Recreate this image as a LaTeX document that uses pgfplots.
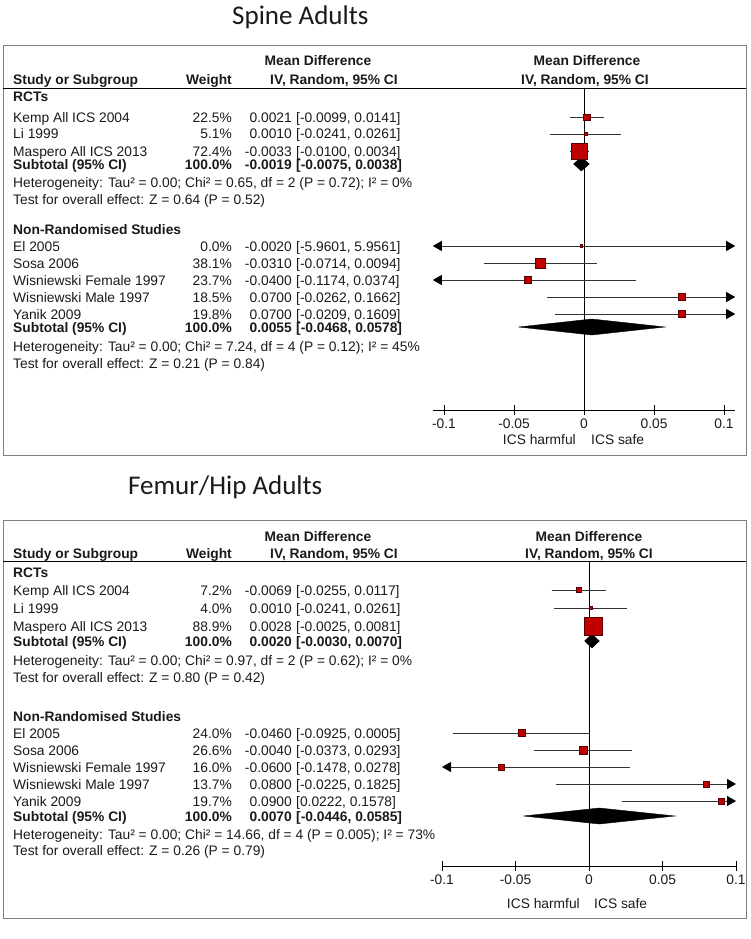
\documentclass[border=0pt]{standalone}
\usepackage{fontspec}
\setmainfont{Liberation Sans}
\newfontfamily\titlefont{Carlito}
\usepackage{pgfplots}
\pgfplotsset{compat=1.18}
\usepackage{pgfplotstable}
\usetikzlibrary{arrows.meta}
\definecolor{sqred}{HTML}{C00000}
\definecolor{sqedge}{HTML}{5A0000}
\definecolor{ciline}{HTML}{333333}
\definecolor{boxgray}{HTML}{808080}
\definecolor{txt}{HTML}{1A1A1A}
\newcommand\fs{\fontsize{13.8}{16}\selectfont}

% y = minus the row position (pixels from top); est = mean difference; s = half side of the weight square
\pgfplotstableread{
y est s
-117 0.0021 3.2
-134 0.0010 1.6
-151 -0.0033 8
-246 -0.0020 1.3
-263 -0.0310 5
-280 -0.0400 3.6
-297 0.0700 3.3
-314 0.0700 3.3
}\spine
\pgfplotstableread{
y est s
-590 -0.0069 2.3
-608 0.0010 1.5
-626 0.0028 9
-733 -0.0460 3.5
-750 -0.0040 3.8
-767 -0.0600 3
-784 0.0800 3
-801 0.0900 3.2
}\femur

\pgfplotsset{
  forest/.style={
    scale only axis, clip=false,
    axis x line*=bottom, axis y line=none,
    xtick={-0.1,-0.05,0,0.05,0.1},
    xticklabels={-0.1,-0.05,0,0.05,0.1},
    tick align=center, major tick length=10pt,
    x axis line style={black, line width=0.8pt, -},
    tick style={black, line width=0.8pt},
    xticklabel style={font=\fs, text=txt},
  },
  ci/.style={ciline, line width=0.9pt},
  sq/.style={scatter, only marks, mark=square*, point meta=explicit,
    scatter/use mapped color={draw=sqedge, fill=sqred},
    mark options={line width=0.5pt},
    visualization depends on={\thisrow{s} \as \ms},
    scatter/@pre marker code/.append style={/tikz/mark size=\ms}},
}
\tikzset{tri/.tip={Triangle[length=9pt,width=10pt,color=black]}}

\newcommand\frow[5]{%
  \node[anchor=base west] at (13,#1+5) {#2};
  \node[anchor=base east] at (232,#1+5) {#3};
  \node[anchor=base east] at (292,#1+5) {#4};
  \node[anchor=base west] at (296,#1+5) {#5};}
\newcommand\brow[5]{%
  \node[anchor=base west] at (13,#1+5) {\bfseries #2};
  \node[anchor=base east] at (232,#1+5) {\bfseries #3};
  \node[anchor=base east] at (292,#1+5) {\bfseries #4};
  \node[anchor=base west] at (296,#1+5) {\bfseries #5};}
\newcommand\lrow[2]{\node[anchor=base west] at (13,#1+5) {#2};}

\begin{document}
\begin{tikzpicture}
\path[use as bounding box] (0pt,0pt) rectangle (750pt,-939pt);

% ---------- Spine Adults ----------
\begin{axis}[forest, at={(432.8pt,-410pt)}, anchor=south west,
  width=302.4pt, height=322pt, xmin=-0.108, xmax=0.108, ymin=-410, ymax=-88]
  \addplot[black, line width=0.8pt] coordinates {(0,-88) (0,-410)};
  \addplot[ci] coordinates {(-0.0099,-117) (0.0141,-117)};
  \addplot[ci] coordinates {(-0.0241,-134) (0.0261,-134)};
  \addplot[ci] coordinates {(-0.0100,-151) (0.0034,-151)};
  \addplot[ci, {tri}-{tri}] coordinates {(-0.108,-246) (0.108,-246)};
  \addplot[ci] coordinates {(-0.0714,-263) (0.0094,-263)};
  \addplot[ci, {tri}-] coordinates {(-0.108,-280) (0.0374,-280)};
  \addplot[ci, -{tri}] coordinates {(-0.0262,-297) (0.108,-297)};
  \addplot[ci, -{tri}] coordinates {(-0.0209,-314) (0.108,-314)};
  \addplot[sq] table[x=est, y=y, meta=s] {\spine};
  \addplot[fill=black, draw=black] coordinates {(-0.0075,-164) (-0.0019,-157) (0.0038,-164) (-0.0019,-171) (-0.0075,-164)};
  \addplot[fill=black, draw=black] coordinates {(-0.0468,-327) (0.0055,-319) (0.0578,-327) (0.0055,-335) (-0.0468,-327)};
\end{axis}

% ---------- Femur/Hip Adults ----------
\begin{axis}[forest, at={(442pt,-866pt)}, anchor=south west,
  width=294pt, height=305pt, xmin=-0.1, xmax=0.1, ymin=-866, ymax=-561]
  \addplot[black, line width=0.8pt] coordinates {(0,-561) (0,-866)};
  \addplot[ci] coordinates {(-0.0255,-590) (0.0117,-590)};
  \addplot[ci] coordinates {(-0.0241,-608) (0.0261,-608)};
  \addplot[ci] coordinates {(-0.0025,-626) (0.0081,-626)};
  \addplot[ci] coordinates {(-0.0925,-733) (0.0005,-733)};
  \addplot[ci] coordinates {(-0.0373,-750) (0.0293,-750)};
  \addplot[ci, {tri}-] coordinates {(-0.1,-767) (0.0278,-767)};
  \addplot[ci, -{tri}] coordinates {(-0.0225,-784) (0.1,-784)};
  \addplot[ci, -{tri}] coordinates {(0.0222,-801) (0.1,-801)};
  \addplot[sq] table[x=est, y=y, meta=s] {\femur};
  \addplot[fill=black, draw=black] coordinates {(-0.0030,-641) (0.0020,-634) (0.0070,-641) (0.0020,-648) (-0.0030,-641)};
  \addplot[fill=black, draw=black] coordinates {(-0.0446,-816) (0.0070,-808) (0.0585,-816) (0.0070,-824) (-0.0446,-816)};
\end{axis}

\begin{scope}[x=1pt, y=-1pt, every node/.style={inner sep=0pt, font=\fs, text=txt}]
% ---- Spine panel
\node[anchor=west, font=\titlefont\fontsize{27}{31}\selectfont] at (232,17) {Spine Adults};
\draw[boxgray, line width=0.8pt] (3,45) rectangle (746,455);
\draw[black, line width=0.8pt] (3,88) -- (746,88);
\node[anchor=base, font=\fs\bfseries] at (318,66) {Mean Difference};
\node[anchor=base, font=\fs\bfseries] at (587,66) {Mean Difference};
\node[anchor=base west, font=\fs\bfseries] at (13,85) {Study or Subgroup};
\node[anchor=base east, font=\fs\bfseries] at (398,85) {IV, Random, 95\% CI};
\node[anchor=base east, font=\fs\bfseries] at (232,85) {Weight};
\node[anchor=base, font=\fs\bfseries] at (585,85) {IV, Random, 95\% CI};
\lrow{97}{\bfseries RCTs}
\frow{117}{Kemp All ICS 2004}{22.5\%}{0.0021}{[-0.0099, 0.0141]}
\frow{134}{Li 1999}{5.1\%}{0.0010}{[-0.0241, 0.0261]}
\frow{151}{Maspero All ICS 2013}{72.4\%}{-0.0033}{[-0.0100, 0.0034]}
\brow{164}{Subtotal (95\% CI)}{100.0\%}{-0.0019}{[-0.0075, 0.0038]}
\lrow{182}{Heterogeneity: Tau² = 0.00; Chi² = 0.65, df = 2 (P = 0.72); I² = 0\%}
\lrow{199}{Test for overall effect: Z = 0.64 (P = 0.52)}
\lrow{229}{\bfseries Non-Randomised Studies}
\frow{246}{El 2005}{0.0\%}{-0.0020}{[-5.9601, 5.9561]}
\frow{263}{Sosa 2006}{38.1\%}{-0.0310}{[-0.0714, 0.0094]}
\frow{280}{Wisniewski Female 1997}{23.7\%}{-0.0400}{[-0.1174, 0.0374]}
\frow{297}{Wisniewski Male 1997}{18.5\%}{0.0700}{[-0.0262, 0.1662]}
\frow{314}{Yanik 2009}{19.8\%}{0.0700}{[-0.0209, 0.1609]}
\brow{327}{Subtotal (95\% CI)}{100.0\%}{0.0055}{[-0.0468, 0.0578]}
\lrow{346}{Heterogeneity: Tau² = 0.00; Chi² = 7.24, df = 4 (P = 0.12); I² = 45\%}
\lrow{363}{Test for overall effect: Z = 0.21 (P = 0.84)}
\node[anchor=base east] at (576,444) {ICS harmful};
\node[anchor=base west] at (591,444) {ICS safe};

% ---- Femur panel
\node[anchor=west, font=\titlefont\fontsize{27}{31}\selectfont] at (128,487) {Femur/Hip Adults};
\draw[boxgray, line width=0.8pt] (3,520) rectangle (746,918);
\draw[black, line width=0.8pt] (3,561) -- (746,561);
\node[anchor=base, font=\fs\bfseries] at (318,541) {Mean Difference};
\node[anchor=base, font=\fs\bfseries] at (589,541) {Mean Difference};
\node[anchor=base west, font=\fs\bfseries] at (13,558) {Study or Subgroup};
\node[anchor=base east, font=\fs\bfseries] at (232,558) {Weight};
\node[anchor=base east, font=\fs\bfseries] at (398,558) {IV, Random, 95\% CI};
\node[anchor=base, font=\fs\bfseries] at (589,558) {IV, Random, 95\% CI};
\lrow{572}{\bfseries RCTs}
\frow{590}{Kemp All ICS 2004}{7.2\%}{-0.0069}{[-0.0255, 0.0117]}
\frow{608}{Li 1999}{4.0\%}{0.0010}{[-0.0241, 0.0261]}
\frow{626}{Maspero All ICS 2013}{88.9\%}{0.0028}{[-0.0025, 0.0081]}
\brow{641}{Subtotal (95\% CI)}{100.0\%}{0.0020}{[-0.0030, 0.0070]}
\lrow{660}{Heterogeneity: Tau² = 0.00; Chi² = 0.97, df = 2 (P = 0.62); I² = 0\%}
\lrow{677}{Test for overall effect: Z = 0.80 (P = 0.42)}
\lrow{716}{\bfseries Non-Randomised Studies}
\frow{733}{El 2005}{24.0\%}{-0.0460}{[-0.0925, 0.0005]}
\frow{750}{Sosa 2006}{26.6\%}{-0.0040}{[-0.0373, 0.0293]}
\frow{767}{Wisniewski Female 1997}{16.0\%}{-0.0600}{[-0.1478, 0.0278]}
\frow{784}{Wisniewski Male 1997}{13.7\%}{0.0800}{[-0.0225, 0.1825]}
\frow{801}{Yanik 2009}{19.7\%}{0.0900}{[0.0222, 0.1578]}
\brow{816}{Subtotal (95\% CI)}{100.0\%}{0.0070}{[-0.0446, 0.0585]}
\lrow{834}{Heterogeneity: Tau² = 0.00; Chi² = 14.66, df = 4 (P = 0.005); I² = 73\%}
\lrow{850}{Test for overall effect: Z = 0.26 (P = 0.79)}
\node[anchor=base east] at (580,908) {ICS harmful};
\node[anchor=base west] at (594,908) {ICS safe};
\end{scope}
\end{tikzpicture}
\end{document}
